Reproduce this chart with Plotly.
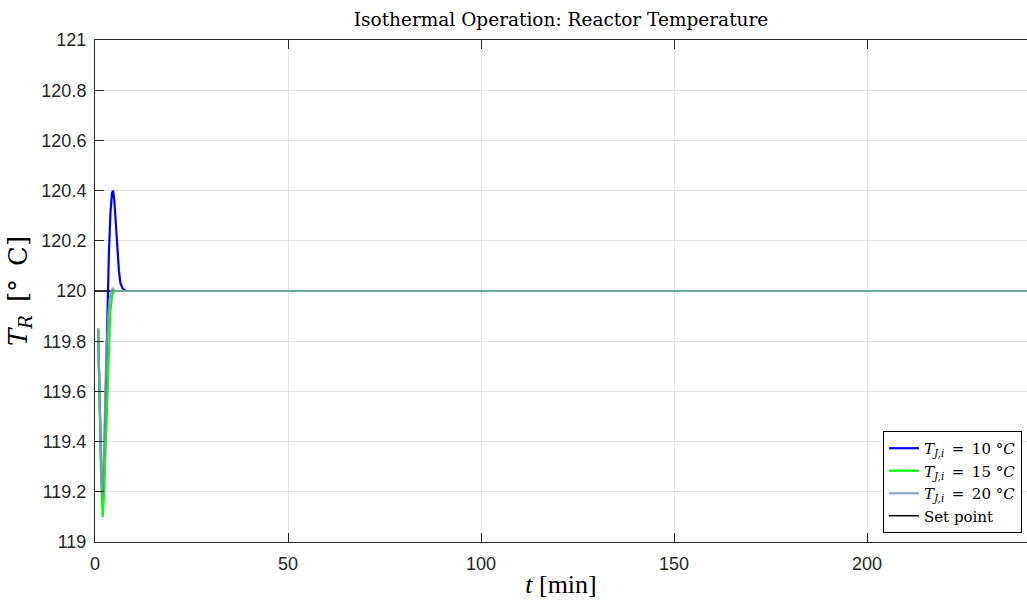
import plotly.graph_objects as go

# Reactor temperature response for three jacket inlet temperatures
t_blue = [0.8, 1.2, 1.6, 2.0, 2.4, 2.8, 3.2, 3.6, 4.0, 4.4, 4.7, 5.0, 5.4, 5.8, 6.2, 6.6, 7.2, 8.0, 242.0]
T_blue = [119.85, 119.55, 119.30, 119.16, 119.30, 119.62, 119.92, 120.15, 120.31, 120.39, 120.40,
          120.36, 120.27, 120.16, 120.08, 120.03, 120.01, 120.00, 120.00]

t_green = [0.8, 1.2, 1.6, 2.0, 2.4, 2.8, 3.2, 3.6, 4.0, 4.4, 4.8, 6.0, 242.0]
T_green = [119.85, 119.55, 119.25, 119.10, 119.20, 119.40, 119.60, 119.77, 119.92, 119.98, 120.00,
           120.00, 120.00]

t_grey = [0.8, 1.2, 1.5, 1.8, 2.2, 2.6, 3.0, 3.4, 3.8, 4.2, 4.6, 5.2, 242.0]
T_grey = [119.85, 119.52, 119.28, 119.18, 119.30, 119.55, 119.77, 119.90, 119.97, 120.00, 120.01,
          120.00, 120.00]

t_sp = [0.0, 242.0]
T_sp = [120.0, 120.0]

x_ticks = [0, 50, 100, 150, 200]
y_ticks = [119, 119.2, 119.4, 119.6, 119.8, 120, 120.2, 120.4, 120.6, 120.8, 121]

SERIF = "Liberation Serif"
WIDE_SERIF = "DejaVu Serif"
SANS = "Liberation Sans"
INK = "#262626"
NB = "\u00a0"
EN = "\u2002"


def jacket_label(temp):
    return f"<i>T</i><sub><i>J,i</i></sub>{EN}={EN}{temp}{NB}°<i>C</i>"


fig = go.Figure()
fig.add_trace(go.Scatter(x=t_sp, y=T_sp, mode="lines", name="Set point",
                         line=dict(color="black", width=1.5), legendrank=4))
fig.add_trace(go.Scatter(x=t_blue, y=T_blue, mode="lines", name=jacket_label(10),
                         line=dict(color="#0000ff", width=2.2), legendrank=1))
fig.add_trace(go.Scatter(x=t_green, y=T_green, mode="lines", name=jacket_label(15),
                         line=dict(color="#00ff00", width=2.2), legendrank=2))
fig.add_trace(go.Scatter(x=t_grey, y=T_grey, mode="lines", name=jacket_label(20),
                         line=dict(color="#7f99b3", width=2.2), opacity=0.85, legendrank=3))

axis_common = dict(
    showline=True, linecolor=INK, linewidth=1,
    ticks="inside", ticklen=9, tickcolor=INK, tickwidth=1,
    showgrid=True, gridcolor="#e3e3e3", gridwidth=1,
    zeroline=False,
    tickfont=dict(family=SANS, size=18, color=INK),
)

fig.update_layout(
    width=1027, height=601,
    margin=dict(l=95, r=0, t=40, b=59),
    paper_bgcolor="white", plot_bgcolor="white",
    title=dict(text="Isothermal Operation: Reactor Temperature",
               font=dict(family=WIDE_SERIF, size=18.5, color="black"),
               x=0.5, xref="paper", xanchor="center", y=0.967, yanchor="middle"),
    xaxis=dict(range=[0, 241.45], tickvals=x_ticks, mirror="ticks",
               ticklabelstandoff=5,
               title=dict(text="<i>t</i> [min]", font=dict(family=SERIF, size=26, color="black"),
                          standoff=2),
               **axis_common),
    yaxis=dict(range=[119, 121], tickvals=y_ticks, ticktext=[f"{v:g}" for v in y_ticks],
               title=dict(text=f"<i>T</i><sub><i>R</i></sub>{EN}[°{EN}C]",
                          font=dict(family=WIDE_SERIF, size=26, color="black"), standoff=6),
               ticklabelstandoff=4,
               **axis_common),
    legend=dict(x=0.9946, xanchor="right", y=0.018, yanchor="bottom",
                bgcolor="white", bordercolor="black", borderwidth=1,
                font=dict(family=WIDE_SERIF, size=15, color="black"),
                tracegroupgap=0, itemwidth=30),
    showlegend=True,
)

fig.write_html("out.html")
